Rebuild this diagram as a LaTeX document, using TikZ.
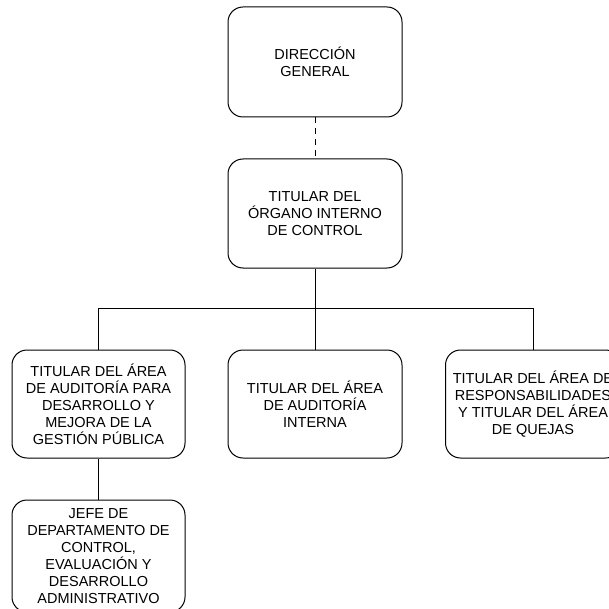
\documentclass[tikz,border=0pt]{standalone}
\usepackage{fontspec}
\setmainfont{Liberation Sans}
\begin{document}
\begin{tikzpicture}[x=1pt,y=-1pt,
  orgbox/.style={draw=black, line width=1pt, rounded corners=15pt, fill=white,
    align=center, inner sep=0pt, font=\fontsize{14.5}{17}\selectfont},
  link/.style={draw=black, line width=1pt}]
\fill[white] (0,0) rectangle (608,609);
\useasboundingbox (0,0) rectangle (608,609);
\node[orgbox, minimum width=174pt, minimum height=110pt] (dg) at (315,62) {DIRECCIÓN\\GENERAL};
\node[orgbox, minimum width=174pt, minimum height=109pt] (oic) at (315,213.5) {TITULAR DEL\\ÓRGANO INTERNO\\DE CONTROL};
\node[orgbox, minimum width=173pt, minimum height=108pt] (aud) at (98.5,404) {TITULAR DEL ÁREA\\DE AUDITORÍA PARA\\DESARROLLO Y\\MEJORA DE LA\\GESTIÓN PÚBLICA};
\node[orgbox, minimum width=174pt, minimum height=108pt] (ai) at (315,404) {TITULAR DEL ÁREA\\DE AUDITORÍA\\INTERNA};
\node[orgbox, minimum width=175pt, minimum height=108pt] (resp) at (533,404) {TITULAR DEL ÁREA DE\\RESPONSABILIDADES\\Y TITULAR DEL ÁREA\\DE QUEJAS};
\node[orgbox, minimum width=173pt, minimum height=112pt] (jefe) at (98.5,556) {JEFE DE\\DEPARTAMENTO DE\\CONTROL,\\EVALUACIÓN Y\\DESARROLLO\\ADMINISTRATIVO};
\coordinate (bus) at (315,308);
\draw[link, dash pattern=on 6pt off 5pt] (dg.south) -- (oic.north);
\draw[link] (oic.south) -- (bus);
\draw[link] (bus) -| (aud.north);
\draw[link] (bus) -| (resp.north);
\draw[link] (bus) -- (ai.north);
\draw[link] (aud.south) -- (jefe.north);
\end{tikzpicture}
\end{document}
